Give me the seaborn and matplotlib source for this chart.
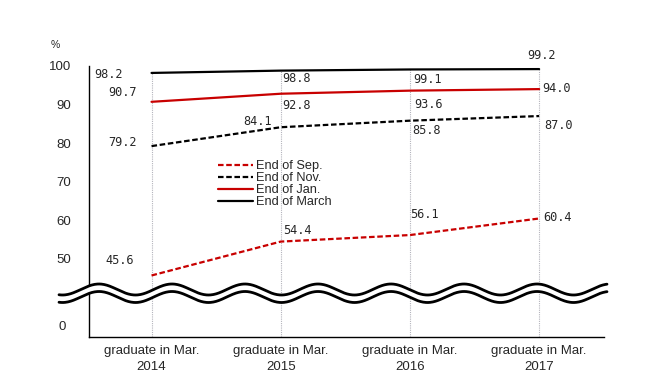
import numpy as np
import pandas as pd
import seaborn as sns
import matplotlib.pyplot as plt

########## Data

years        = ['2014', '2015', '2016', '2017']
x_labels     = ['graduate in Mar.\n' + y for y in years]
series_names = ['End of Sep.', 'End of Nov.', 'End of Jan.', 'End of March']

sep_rate   = [45.6, 54.4, 56.1, 60.4]
nov_rate   = [79.2, 84.1, 85.8, 87.0]
jan_rate   = [90.7, 92.8, 93.6, 94.0]
march_rate = [98.2, 98.8, 99.1, 99.2]

y_ticks       = [40, 50, 60, 70, 80, 90, 100]
y_tick_labels = ['', '50', '60', '70', '80', '90', '100']

########## Style

sns.set_style('white')
plt.rcParams['font.family'] = ['Liberation Sans', 'DejaVu Sans']

red = '#c80000'
palette = {'End of Sep.': red, 'End of Nov.': 'black', 'End of Jan.': red, 'End of March': 'black'}
dashes  = {'End of Sep.': (2.5, 1.2), 'End of Nov.': (2.5, 1.2), 'End of Jan.': '', 'End of March': ''}

# label offsets (pixels) from each point, same order as the series
label_offsets = [
    [(-46, 15), (2, 11), (0, 21), (4, 1)],
    [(-43, 4), (-37, 6), (2, -10), (5, -9)],
    [(-43, 9), (2, -12), (4, -14), (3, 1)],
    [(-57, -2), (2, -8), (3, -10), (-12, 14)],
]

########## Long-form frame

x_pos = list(range(len(years)))
all_series = [sep_rate, nov_rate, jan_rate, march_rate]
df = pd.DataFrame({
    'x':      x_pos * len(series_names),
    'rate':   sep_rate + nov_rate + jan_rate + march_rate,
    'period': np.repeat(series_names, len(years)),
})

########## Plot

fig = plt.figure(figsize = (6.46, 3.84), dpi = 100)
ax  = fig.add_axes([89 / 646, 1 - 336.7 / 384, 515 / 646, 270.7 / 384])

y_bottom = 29.7
ax.vlines(x_pos, y_bottom, march_rate, colors = '#b4b4bc', linestyles = (0, (1, 1)), lw = 0.8, zorder = 1)

sns.lineplot(data = df, x = 'x', y = 'rate', hue = 'period', style = 'period',
             hue_order = series_names, style_order = series_names,
             palette = palette, dashes = dashes, lw = 1.6, legend = False, ax = ax, zorder = 3)

for vals, offs in zip(all_series, label_offsets):
    for xi, v, (dx, dy) in zip(x_pos, vals, offs):
        ax.annotate(f"{v:.1f}", (xi, v), xytext = (dx, dy), textcoords = 'offset pixels',
                    ha = 'left', va = 'center', fontsize = 8.6, family = 'DejaVu Sans Mono', zorder = 4)

leg = ax.legend(ax.lines[-4:], series_names,
                loc = 'upper left', bbox_to_anchor = (218 / 646, 1 - 160 / 384),
                bbox_transform = fig.transFigure, frameon = False, fontsize = 9.2,
                handlelength = 2.7, handletextpad = 0.3, labelspacing = 0.0,
                borderpad = 0, borderaxespad = 0)

# axis break wave
px = np.linspace(59, 607, 800)
upper = 289.5 - 5.5 * np.cos(2 * np.pi * (px - 245) / 73)
lower = 297.0 - 5.5 * np.cos(2 * np.pi * (px - 245) / 73)
fx = px / 646
ax.fill_between(fx, 1 - lower / 384, 1 - upper / 384, color = 'white', lw = 0,
                transform = fig.transFigure, clip_on = False, zorder = 5)
ax.plot(fx, 1 - upper / 384, color = 'black', lw = 2.0, transform = fig.transFigure, clip_on = False, zorder = 6)
ax.plot(fx, 1 - lower / 384, color = 'black', lw = 2.0, transform = fig.transFigure, clip_on = False, zorder = 6)

ax.set_xlim(-0.484, 3.502)
ax.set_ylim(y_bottom, 100)
ax.set_xticks(x_pos)
ax.set_xticklabels(x_labels, fontsize = 9.5, linespacing = 1.45)
ax.set_yticks(y_ticks)
ax.set_yticklabels(y_tick_labels, fontsize = 9.5)
ax.set_yticks([32.7], minor = True)
ax.set_yticklabels(['0'], minor = True, fontsize = 9.5)
ax.tick_params(axis = 'y', which = 'major', direction = 'in', length = 4, width = 0.8, pad = 13, color = 'black')
ax.tick_params(axis = 'y', which = 'minor', length = 0, pad = 17)
ax.tick_params(axis = 'x', length = 0, pad = 6)
ax.set_xlabel('')
ax.set_ylabel('')

for side in ['top', 'right']:
    ax.spines[side].set_visible(False)
for side in ['left', 'bottom']:
    ax.spines[side].set_color('black')
    ax.spines[side].set_linewidth(1.0)

fig.text(55 / 646, 1 - 45 / 384, '%', ha = 'center', va = 'center', fontsize = 7.5)

fig.savefig('out.png', dpi = 100)
